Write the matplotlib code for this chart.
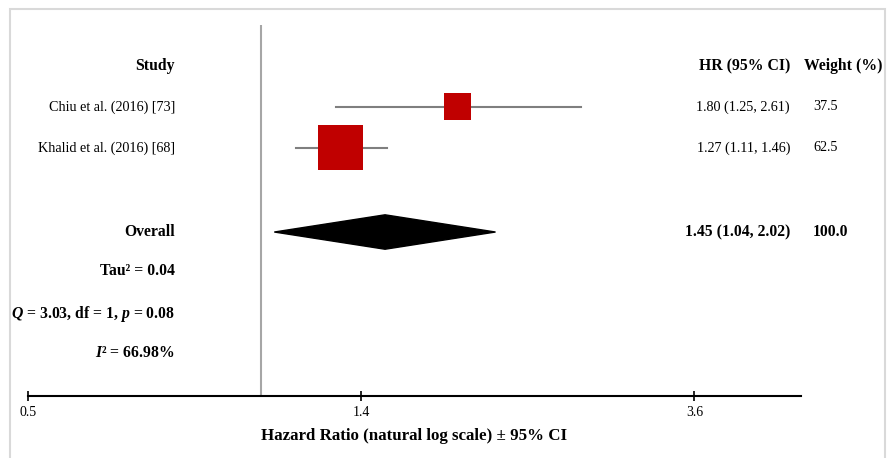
import numpy as np
import matplotlib.pyplot as plt
from matplotlib.patches import Polygon, Rectangle

plt.rcParams['font.family'] = ['Liberation Serif', 'DejaVu Serif']
plt.rcParams['mathtext.fontset'] = 'custom'
plt.rcParams['mathtext.rm'] = 'Liberation Serif:bold'
plt.rcParams['mathtext.it'] = 'Liberation Serif:italic:bold'
plt.rcParams['mathtext.bf'] = 'Liberation Serif:bold'

# study level results
studies = ["Chiu et al. (2016) [73]", "Khalid et al. (2016) [68]"]
hr = [1.80, 1.27]
ci_low = [1.25, 1.11]
ci_high = [2.61, 1.46]
weights = [37.5, 62.5]

# pooled estimate
pooled_hr = 1.45
pooled_low = 1.04
pooled_high = 2.02
pooled_weight = 100.0

stats_lines = ["Tau² = 0.04",
               r"$Q$ = 3.03, df = 1, $p$ = 0.08",
               r"$I$² = 66.98%"]

tick_logs = [-0.7, 0.3, 1.3]
tick_labels = ["0.5", "1.4", "3.6"]

fig = plt.figure(figsize=(8.88, 4.58), dpi=100)
fig.patches.append(Rectangle((10 / 888, -0.01), 875 / 888, 1 - 9 / 458 + 0.01,
                             transform=fig.transFigure, fill=False,
                             edgecolor='#d9d9d9', lw=1.5))
ax = fig.add_axes([28 / 888, 1 - 396 / 458, 773 / 888, 371 / 458])
ax.set_xscale('log')
ax.set_xlim(np.exp(-0.7), np.exp(1.62))
ax.set_ylim(8.05, -1.0)

ax.axvline(1.0, color='#a6a6a6', lw=1.5, zorder=1)

rows = [1, 2]
for y, h, lo, hi, w in zip(rows, hr, ci_low, ci_high, weights):
    ax.plot([lo, hi], [y, y], color='#7f7f7f', lw=1.5, zorder=2)
    side = w * 0.72 * 0.72
    ax.scatter([h], [y], marker='s', s=side ** 2, color='#c00000',
               edgecolors='none', zorder=3)

yo = 4.05
diamond = Polygon([(pooled_low, yo), (pooled_hr, yo - 0.42),
                   (pooled_high, yo), (pooled_hr, yo + 0.42)],
                  closed=True, facecolor='black', edgecolor='black', zorder=3)
ax.add_patch(diamond)

# text columns
tr = ax.get_yaxis_transform()
x_study = (175 - 28) / 773
x_hr = (790 - 28) / 773
x_w = (804 - 28) / 773
x_wv = (813 - 28) / 773
fs = 10.2
fb = 11.3

ax.text(x_study, 0, "Study", transform=tr, ha='right', va='center',
        fontsize=fb, fontweight='bold')
ax.text(x_hr, 0, "HR (95% CI)", transform=tr, ha='right', va='center',
        fontsize=fb, fontweight='bold')
ax.text(x_w, 0, "Weight (%)", transform=tr, ha='left', va='center',
        fontsize=fb, fontweight='bold', clip_on=False)

for y, name, h, lo, hi, w in zip(rows, studies, hr, ci_low, ci_high, weights):
    ax.text(x_study, y, name, transform=tr, ha='right', va='center', fontsize=fs)
    ax.text(x_hr, y, f"{h:.2f} ({lo:.2f}, {hi:.2f})", transform=tr,
            ha='right', va='center', fontsize=fs)
    ax.text(x_wv, y, f"{w:.1f}", transform=tr, ha='left', va='center',
            fontsize=fs, clip_on=False)

ax.text(x_study, yo, "Overall", transform=tr, ha='right', va='center',
        fontsize=fb, fontweight='bold')
ax.text(x_hr, yo, f"{pooled_hr:.2f} ({pooled_low:.2f}, {pooled_high:.2f})",
        transform=tr, ha='right', va='center', fontsize=fb, fontweight='bold')
ax.text(x_wv, yo, f"{pooled_weight:.1f}", transform=tr, ha='left',
        va='center', fontsize=fb, fontweight='bold', clip_on=False)

for y, s in zip([5, 6.05, 7], stats_lines):
    ax.text(x_study, y, s, transform=tr, ha='right', va='center',
            fontsize=fb, fontweight='bold')

# axis styling
for side_name in ['top', 'right', 'left']:
    ax.spines[side_name].set_visible(False)
ax.spines['bottom'].set_linewidth(1.5)
ax.set_yticks([])
ax.minorticks_off()
ax.set_xticks(np.exp(tick_logs))
ax.set_xticklabels(tick_labels)
ax.tick_params(axis='x', direction='inout', length=7, width=1.2,
               labelsize=10, pad=4)
ax.set_xlabel("Hazard Ratio (natural log scale) ± 95% CI", fontsize=12.2,
              fontweight='bold', labelpad=6)

fig.savefig("out.png", dpi=100)
